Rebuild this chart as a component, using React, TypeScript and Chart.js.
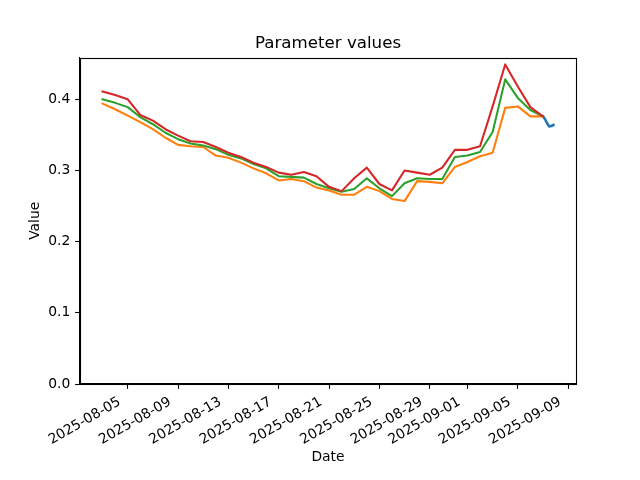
import React, { useEffect, useRef } from "react";
import { Chart, registerables } from "chart.js";

Chart.register(...registerables);

// ---- Data ----
const dates = [
  "2025-08-03", "2025-08-04", "2025-08-05", "2025-08-06", "2025-08-07", "2025-08-08",
  "2025-08-09", "2025-08-10", "2025-08-11", "2025-08-12", "2025-08-13", "2025-08-14",
  "2025-08-15", "2025-08-16", "2025-08-17", "2025-08-18", "2025-08-19", "2025-08-20",
  "2025-08-21", "2025-08-22", "2025-08-23", "2025-08-24", "2025-08-25", "2025-08-26",
  "2025-08-27", "2025-08-28", "2025-08-29", "2025-08-30", "2025-08-31", "2025-09-01",
  "2025-09-02", "2025-09-03", "2025-09-04", "2025-09-05", "2025-09-06", "2025-09-07",
];

const orangeValues = [
  0.394, 0.386, 0.377, 0.368, 0.358, 0.346, 0.336, 0.334, 0.333, 0.321, 0.318, 0.311,
  0.303, 0.296, 0.286, 0.288, 0.285, 0.276, 0.272, 0.266, 0.266, 0.277, 0.271, 0.260,
  0.257, 0.285, 0.284, 0.282, 0.305, 0.312, 0.320, 0.325, 0.388, 0.390, 0.376, 0.376,
];

const greenValues = [
  0.400, 0.395, 0.389, 0.375, 0.365, 0.353, 0.344, 0.338, 0.335, 0.330, 0.322, 0.317,
  0.309, 0.303, 0.292, 0.291, 0.290, 0.281, 0.275, 0.270, 0.274, 0.289, 0.275, 0.264,
  0.282, 0.289, 0.288, 0.288, 0.319, 0.321, 0.326, 0.354, 0.428, 0.402, 0.385, 0.376,
];

const redValues = [
  0.411, 0.406, 0.400, 0.378, 0.370, 0.358, 0.349, 0.341, 0.340, 0.333, 0.325, 0.319,
  0.311, 0.305, 0.297, 0.294, 0.298, 0.292, 0.277, 0.271, 0.289, 0.304, 0.281, 0.272,
  0.300, 0.297, 0.294, 0.304, 0.329, 0.329, 0.334, 0.390, 0.449, 0.418, 0.389, 0.376,
];

const blueTimes = [
  "2025-09-07T00:00", "2025-09-07T04:00", "2025-09-07T08:00",
  "2025-09-07T12:00", "2025-09-07T16:00", "2025-09-07T20:00",
];
const blueValues = [0.376, 0.372, 0.366, 0.362, 0.3625, 0.364];

const xTickLabels = [
  "2025-08-05", "2025-08-09", "2025-08-13", "2025-08-17", "2025-08-21",
  "2025-08-25", "2025-08-29", "2025-09-01", "2025-09-05", "2025-09-09",
];
const yTickValues = [0, 0.1, 0.2, 0.3, 0.4];

// ---- Helpers ----
const DAY = 86400000;
function toDay(s: string): number {
  const [datePart, timePart] = s.split("T");
  const [y, m, d] = datePart.split("-").map(Number);
  let h = 0;
  let mi = 0;
  if (timePart) {
    const parts = timePart.split(":").map(Number);
    h = parts[0];
    mi = parts[1];
  }
  return Date.UTC(y, m - 1, d, h, mi) / DAY;
}

const FONT = "'DejaVu Sans', sans-serif";
const TICK_SIZE = 13.89;

const framePlugin = {
  id: "frame",
  afterDatasetsDraw(chart: any) {
    const { ctx, chartArea } = chart;
    const l = Math.round(chartArea.left) + 0.5;
    const t = Math.round(chartArea.top) + 0.5;
    const r = Math.round(chartArea.right) + 0.5;
    const b = Math.round(chartArea.bottom) + 0.5;
    ctx.save();
    ctx.strokeStyle = "#000";
    ctx.lineWidth = 1.1;
    ctx.strokeRect(l, t, r - l, b - t);
    ctx.restore();
  },
};

export default function App() {
  const canvasRef = useRef<HTMLCanvasElement | null>(null);

  useEffect(() => {
    const canvas = canvasRef.current;
    if (!canvas) return;

    const mk = (vals: number[]) => dates.map((d, i) => ({ x: toDay(d), y: vals[i] }));
    const bluePts = blueTimes.map((t, i) => ({ x: toDay(t), y: blueValues[i] }));

    const allX = [...dates.map(toDay), ...blueTimes.map(toDay)];
    const xMinD = Math.min(...allX);
    const xMaxD = Math.max(...allX);
    const xSpan = xMaxD - xMinD;
    const allY = [...orangeValues, ...greenValues, ...redValues, ...blueValues];
    const yMaxD = Math.max(...allY);
    const yMinD = Math.min(...allY);
    const yMax = yMaxD + 0.05 * (yMaxD - yMinD);

    const labelMap = new Map<number, string>();
    xTickLabels.forEach((l) => labelMap.set(Math.round(toDay(l)), l));

    const lineCommon = {
      borderWidth: 2.08,
      pointRadius: 0,
      tension: 0,
      fill: false,
      borderJoinStyle: "round" as const,
      borderCapStyle: "square" as const,
    };

    Chart.defaults.font.family = FONT;
    Chart.defaults.color = "#000";

    const chart = new Chart(canvas, {
      type: "line",
      data: {
        datasets: [
          { ...lineCommon, label: "C3", data: mk(redValues), borderColor: "#d62728", backgroundColor: "#d62728", order: 0 },
          { ...lineCommon, label: "C2", data: mk(greenValues), borderColor: "#2ca02c", backgroundColor: "#2ca02c", order: 1 },
          { ...lineCommon, label: "C1", data: mk(orangeValues), borderColor: "#ff7f0e", backgroundColor: "#ff7f0e", order: 2 },
          { ...lineCommon, label: "C0", data: bluePts, borderColor: "#1f77b4", backgroundColor: "#1f77b4", borderWidth: 2.6, order: 3 },
        ],
      },
      options: {
        animation: false,
        responsive: false,
        devicePixelRatio: 1,
        layout: { padding: { left: 0, right: 64, top: 0, bottom: 0 } },
        plugins: {
          legend: { display: false },
          tooltip: { enabled: false },
          title: {
            display: true,
            fullSize: false,
            text: "Parameter values",
            color: "#000",
            font: { family: FONT, size: 16.67, weight: "normal" },
            padding: { top: 33.8, bottom: 3.8 },
          },
        },
        scales: {
          x: {
            type: "linear",
            min: xMinD - 0.05 * xSpan,
            max: xMaxD + 0.05 * xSpan,
            afterFit: (scale: any) => {
              scale.height = 96;
            },
            afterBuildTicks: (scale: any) => {
              scale.ticks = xTickLabels.map((l) => ({ value: toDay(l) }));
            },
            grid: {
              display: true,
              drawOnChartArea: false,
              drawTicks: true,
              tickLength: 4.86,
              tickColor: "#000",
              tickWidth: 1.1,
            },
            border: { display: true, color: "#000", width: 1.1 },
            ticks: {
              autoSkip: false,
              maxRotation: 30,
              minRotation: 30,
              padding: 4.86,
              labelOffset: -8,
              color: "#000",
              font: { family: FONT, size: TICK_SIZE },
              callback: (v: any) => labelMap.get(Math.round(Number(v))) ?? "",
            },
            title: {
              display: true,
              text: "Date",
              color: "#000",
              font: { family: FONT, size: TICK_SIZE },
              padding: { top: 0, bottom: 14.4 },
            },
          },
          y: {
            type: "linear",
            min: 0,
            max: yMax,
            afterFit: (scale: any) => {
              scale.width = 80;
            },
            afterBuildTicks: (scale: any) => {
              scale.ticks = yTickValues.map((v) => ({ value: v }));
            },
            grid: {
              display: true,
              drawOnChartArea: false,
              drawTicks: true,
              tickLength: 4.86,
              tickColor: "#000",
              tickWidth: 1.1,
            },
            border: { display: true, color: "#000", width: 1.1 },
            ticks: {
              padding: 4.86,
              color: "#000",
              font: { family: FONT, size: TICK_SIZE },
              callback: (v: any) => Number(v).toFixed(1),
            },
            title: {
              display: true,
              text: "Value",
              color: "#000",
              font: { family: FONT, size: TICK_SIZE },
              padding: { top: 27, bottom: 0 },
            },
          },
        },
      },
      plugins: [framePlugin],
    });

    return () => {
      chart.destroy();
    };
  }, []);

  return (
    <div style={{ position: "absolute", left: 0, top: 0, width: 640, height: 480, background: "#fff" }}>
      <canvas ref={canvasRef} width={640} height={480} style={{ display: "block" }} />
    </div>
  );
}
